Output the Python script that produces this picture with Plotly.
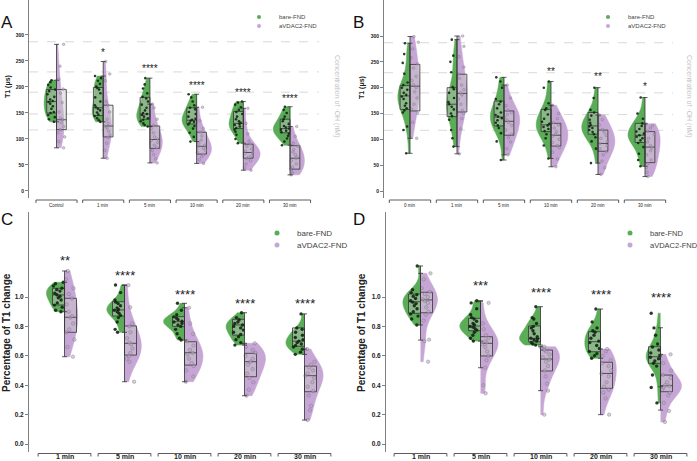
import plotly.graph_objects as go

W, H = 697, 461
FONT = "Liberation Sans, Arial, sans-serif"
GREEN = "#5aac57"
PURPLE = "#c6a6d5"
GREEN_PT = "rgba(20,36,20,0.9)"
PURPLE_PT = "rgba(185,165,195,0.55)"
PURPLE_PT_LINE = "rgba(110,100,118,0.6)"
BOX_FILL = "rgba(200,200,200,0.45)"
BOX_LINE = "#333333"

series_names = ["bare-FND", "aVDAC2-FND"]

# ---------------- Panel A : T1 (us) ----------------
a_cats = ["Control", "1 min", "5 min", "10 min", "20 min", "30 min"]
a_bare = [
    [133, 138, 142, 146, 150, 152, 158, 163, 168, 171, 173, 176, 181, 186, 192, 195, 199, 204, 209, 213],
    [133, 136, 140, 144, 147, 151, 155, 158, 161, 165, 172, 180, 188, 195, 198, 201, 206, 212, 217, 221],
    [124, 127, 130, 134, 137, 140, 143, 146, 148, 150, 155, 160, 166, 172, 178, 181, 188, 197, 205, 217],
    [95, 104, 112, 120, 125, 128, 131, 133, 135, 137, 139, 143, 148, 152, 157, 160, 165, 172, 180, 186],
    [92, 100, 108, 114, 118, 121, 124, 127, 129, 131, 134, 138, 143, 148, 152, 156, 161, 166, 170, 172],
    [88, 95, 101, 106, 110, 113, 116, 118, 120, 122, 125, 129, 134, 138, 143, 150, 156, 162],
]
a_avdac = [
    [83, 95, 104, 112, 118, 124, 131, 137, 140, 152, 170, 188, 196, 215, 240, 282],
    [63, 78, 92, 103, 108, 115, 121, 125, 130, 138, 152, 165, 172, 212, 225, 249],
    [54, 62, 70, 78, 83, 88, 93, 97, 100, 104, 112, 120, 126, 138, 160, 167],
    [53, 60, 66, 70, 74, 78, 82, 85, 88, 92, 98, 106, 113, 120, 135, 161],
    [40, 45, 52, 58, 62, 65, 68, 72, 74, 77, 81, 86, 90, 96, 110, 130, 159],
    [31, 34, 38, 42, 46, 52, 58, 62, 65, 70, 75, 80, 86, 92, 105, 124],
]
# [min, q1, median, q3, max]
a_bare_box = [[133, 150, 172, 195, 213], [133, 145, 160, 199, 221], [124, 138, 148, 180, 217],
              [95, 129, 136, 160, 186], [92, 120, 130, 153, 172], [88, 112, 120, 138, 162]]
a_avdac_box = [[83, 118, 137, 195, 282], [63, 104, 125, 165, 249], [54, 82, 99, 125, 167],
               [53, 71, 86, 113, 161], [40, 63, 74, 90, 159], [31, 42, 63, 87, 124]]
a_sig = ["", "*", "****", "****", "****", "****"]
a_sig_y = [None, 266, 235, 202, 189, 178]

# ---------------- Panel B : T1 (us) ----------------
b_cats = ["0 min", "1 min", "5 min", "10 min", "20 min", "30 min"]
b_bare = [
    [73, 118, 125, 152, 156, 160, 165, 170, 178, 183, 186, 190, 196, 200, 205, 210, 227, 248, 265, 286],
    [86, 102, 118, 138, 145, 150, 158, 163, 168, 172, 180, 190, 197, 201, 230, 250, 262, 293],
    [60, 96, 112, 122, 127, 132, 137, 141, 144, 147, 152, 160, 168, 173, 178, 200, 212, 220],
    [63, 88, 102, 110, 116, 120, 124, 127, 130, 134, 140, 148, 157, 160, 170, 200, 212],
    [54, 82, 96, 104, 110, 114, 118, 122, 125, 128, 132, 138, 146, 152, 157, 180, 200],
    [48, 60, 72, 85, 93, 98, 102, 105, 108, 111, 115, 120, 126, 131, 140, 150, 181],
]
b_avdac = [
    [102, 133, 150, 158, 168, 180, 192, 200, 206, 214, 222, 238, 246, 258, 275, 288, 299],
    [72, 120, 140, 150, 156, 168, 178, 186, 190, 196, 205, 218, 226, 240, 260, 280, 300],
    [70, 82, 95, 103, 110, 118, 127, 133, 137, 142, 148, 152, 156, 165, 180, 205],
    [47, 62, 75, 84, 88, 94, 100, 106, 110, 115, 122, 128, 132, 140, 150, 166],
    [32, 45, 58, 70, 76, 82, 88, 92, 96, 102, 108, 114, 119, 128, 138, 147],
    [28, 36, 45, 53, 60, 70, 78, 84, 88, 95, 102, 110, 116, 122, 127, 130],
]
b_bare_box = [[73, 158, 184, 204, 286], [86, 144, 168, 200, 293], [60, 126, 143, 174, 220],
              [63, 115, 128, 158, 212], [54, 110, 126, 152, 200], [48, 94, 108, 131, 181]]
b_avdac_box = [[102, 155, 203, 245, 299], [72, 153, 189, 226, 300], [70, 108, 135, 155, 205],
               [47, 87, 108, 131, 166], [32, 77, 92, 118, 147], [28, 55, 85, 115, 130]]
b_sig = ["", "", "", "**", "**", "*"]
b_sig_y = [None, None, None, 231, 221, 202]

# right-hand scale: .OH concentration (nM) marked at these T1 levels
conc_labels = ["0", "50", "100", "200", "500"]
conc_t1 = [287, 229, 190, 148, 117.5]

# ---------------- Panel C : fraction of T1 ----------------
c_cats = ["1 min", "5 min", "10 min", "20 min", "30 min"]
c_bare = [
    [0.90, 0.91, 0.93, 0.945, 0.96, 0.98, 0.995, 1.005, 1.015, 1.025, 1.04, 1.05, 1.06, 1.075, 1.09, 1.10],
    [0.76, 0.78, 0.83, 0.86, 0.875, 0.89, 0.90, 0.91, 0.915, 0.925, 0.94, 0.955, 0.965, 0.98, 1.03, 1.082],
    [0.707, 0.72, 0.75, 0.78, 0.80, 0.81, 0.82, 0.83, 0.835, 0.845, 0.855, 0.865, 0.88, 0.91, 0.957],
    [0.673, 0.69, 0.71, 0.73, 0.745, 0.76, 0.775, 0.79, 0.80, 0.81, 0.82, 0.83, 0.845, 0.86, 0.893],
    [0.61, 0.625, 0.645, 0.66, 0.67, 0.68, 0.69, 0.70, 0.71, 0.725, 0.74, 0.76, 0.78, 0.79, 0.885],
]
c_avdac = [
    [0.594, 0.66, 0.71, 0.76, 0.78, 0.82, 0.86, 0.87, 0.90, 0.95, 0.99, 1.02, 1.06, 1.12, 1.177],
    [0.424, 0.56, 0.58, 0.60, 0.62, 0.65, 0.68, 0.69, 0.72, 0.76, 0.80, 0.82, 0.93, 1.08],
    [0.424, 0.46, 0.50, 0.53, 0.55, 0.58, 0.61, 0.62, 0.64, 0.67, 0.70, 0.75, 0.82, 0.927],
    [0.329, 0.37, 0.42, 0.45, 0.48, 0.51, 0.54, 0.56, 0.58, 0.60, 0.62, 0.64, 0.66, 0.685],
    [0.163, 0.23, 0.26, 0.33, 0.36, 0.39, 0.42, 0.45, 0.465, 0.48, 0.50, 0.52, 0.54, 0.56, 0.646],
]
c_bare_box = [[0.90, 0.946, 1.014, 1.059, 1.10], [0.76, 0.871, 0.912, 0.968, 1.082],
              [0.707, 0.80, 0.832, 0.866, 0.957], [0.673, 0.741, 0.81, 0.848, 0.893],
              [0.61, 0.665, 0.70, 0.79, 0.885]]
c_avdac_box = [[0.594, 0.76, 0.862, 0.991, 1.177], [0.424, 0.605, 0.685, 0.803, 1.08],
               [0.424, 0.537, 0.621, 0.696, 0.927], [0.329, 0.458, 0.56, 0.617, 0.685],
               [0.163, 0.356, 0.465, 0.53, 0.646]]
c_sig = ["**", "****", "****", "****", "****"]
c_sig_y = [1.245, 1.143, 1.015, 0.953, 0.953]

# ---------------- Panel D : fraction of T1 ----------------
d_cats = ["1 min", "5 min", "10 min", "20 min", "30 min"]
d_bare = [
    [0.81, 0.85, 0.87, 0.885, 0.90, 0.92, 0.94, 0.955, 0.965, 0.975, 0.99, 1.005, 1.015, 1.03, 1.05, 1.211],
    [0.70, 0.72, 0.74, 0.76, 0.775, 0.785, 0.795, 0.80, 0.81, 0.82, 0.835, 0.85, 0.86, 0.88, 0.92, 0.96, 0.975],
    [0.673, 0.68, 0.69, 0.70, 0.71, 0.715, 0.72, 0.73, 0.75, 0.77, 0.79, 0.80, 0.82, 0.85, 0.86, 0.934],
    [0.583, 0.60, 0.615, 0.63, 0.65, 0.67, 0.69, 0.70, 0.72, 0.74, 0.76, 0.77, 0.79, 0.83, 0.918],
    [0.28, 0.385, 0.47, 0.53, 0.55, 0.565, 0.58, 0.59, 0.60, 0.62, 0.64, 0.66, 0.68, 0.74, 0.79, 0.89],
]
d_avdac = [
    [0.56, 0.70, 0.71, 0.84, 0.88, 0.90, 0.93, 0.96, 0.975, 0.985, 1.00, 1.02, 1.035, 1.06, 1.12, 1.161],
    [0.345, 0.40, 0.519, 0.57, 0.60, 0.63, 0.66, 0.68, 0.69, 0.70, 0.72, 0.74, 0.78, 0.82, 0.96],
    [0.20, 0.363, 0.41, 0.46, 0.50, 0.53, 0.56, 0.575, 0.59, 0.61, 0.63, 0.64, 0.655, 0.662],
    [0.20, 0.31, 0.35, 0.37, 0.39, 0.42, 0.46, 0.48, 0.50, 0.53, 0.55, 0.57, 0.60, 0.63, 0.646],
    [0.15, 0.225, 0.28, 0.33, 0.35, 0.37, 0.385, 0.395, 0.40, 0.42, 0.45, 0.47, 0.50, 0.55, 0.61],
]
d_bare_box = [[0.81, 0.889, 0.968, 1.02, 1.211], [0.70, 0.771, 0.803, 0.855, 0.975],
              [0.673, 0.696, 0.719, 0.803, 0.934], [0.583, 0.628, 0.696, 0.764, 0.918],
              [0.39, 0.549, 0.594, 0.662, 0.791]]
d_avdac_box = [[0.707, 0.893, 0.98, 1.032, 1.161], [0.519, 0.599, 0.685, 0.73, 0.968],
               [0.363, 0.497, 0.578, 0.639, 0.662], [0.20, 0.379, 0.48, 0.556, 0.646],
               [0.231, 0.356, 0.397, 0.469, 0.61]]
d_sig = ["", "***", "****", "****", "****"]
d_sig_y = [None, 1.075, 1.034, 1.014, 1.0]


def px_x(p):
    return p / W


def px_y(p):
    return 1 - p / H


fig = go.Figure()
annotations = []
shapes = []


def add_panel(xa, ya, cats, bare, avdac, bare_box, avdac_box, sig, sig_y,
              box_w, vio_w, pt, star_size, legends, leg_ms):
    n = len(cats)
    pos = list(range(n))
    for vals_list, side, col in ((bare, "negative", GREEN), (avdac, "positive", PURPLE)):
        xs = [i for i, vals in enumerate(vals_list) for _ in vals]
        ys = [v for vals in vals_list for v in vals]
        fig.add_trace(go.Violin(
            x=xs, y=ys, side=side, width=vio_w, spanmode="hard", points=False,
            scalemode="width", fillcolor=col, line=dict(color=col, width=0.5),
            box=dict(visible=False), meanline=dict(visible=False),
            xaxis=xa, yaxis=ya, showlegend=False, hoverinfo="skip"))
    for stats, sgn in ((bare_box, -1), (avdac_box, 1)):
        fig.add_trace(go.Box(
            x=[i + sgn * box_w / 2 for i in pos],
            q1=[s[1] for s in stats], median=[s[2] for s in stats], q3=[s[3] for s in stats],
            lowerfence=[s[1] for s in stats], upperfence=[s[3] for s in stats],
            width=box_w, fillcolor=BOX_FILL, line=dict(color=BOX_LINE, width=0.8),
            whiskerwidth=0, boxpoints=False, xaxis=xa, yaxis=ya,
            showlegend=False, hoverinfo="skip"))
    for stats in (bare_box, avdac_box):
        fig.add_trace(go.Scatter(
            x=pos, y=[s[2] for s in stats], mode="markers",
            marker=dict(size=1, color="rgba(0,0,0,0)"),
            error_y=dict(type="data", symmetric=False,
                         array=[s[4] - s[2] for s in stats],
                         arrayminus=[s[2] - s[0] for s in stats],
                         color=BOX_LINE, thickness=0.8, width=2.5),
            xaxis=xa, yaxis=ya, showlegend=False, hoverinfo="skip"))
    for vals_list, sgn, mk in (
            (bare, -1, dict(size=pt, color=GREEN_PT)),
            (avdac, 1, dict(size=pt, color=PURPLE_PT, line=dict(width=0.6, color=PURPLE_PT_LINE)))):
        xs = [i + sgn * box_w / 2 for i, vals in enumerate(vals_list) for _ in vals]
        ys = [v for vals in vals_list for v in vals]
        fig.add_trace(go.Box(
            x=xs, y=ys, boxpoints="all", jitter=0.9, pointpos=0, width=box_w,
            fillcolor="rgba(0,0,0,0)", line=dict(width=0, color="rgba(0,0,0,0)"),
            whiskerwidth=0, marker=mk, xaxis=xa, yaxis=ya,
            showlegend=False, hoverinfo="skip"))
    # legend entries
    for name, col, lg in zip(series_names, (GREEN, PURPLE), legends):
        fig.add_trace(go.Scatter(
            x=[None], y=[None], mode="markers", name=name,
            marker=dict(color=col, size=leg_ms), legend=lg,
            xaxis=xa, yaxis=ya, hoverinfo="skip"))
    # significance stars
    for i, (s, y) in enumerate(zip(sig, sig_y)):
        if s:
            annotations.append(dict(x=i, y=y, xref=xa, yref=ya, text=s, showarrow=False,
                                    font=dict(size=star_size, color="#222"),
                                    xanchor="center", yanchor="middle"))


def add_brackets(xa, cats, y_top_px, y_bot_px, label_px, label_font):
    for i, c in enumerate(cats):
        shapes.append(dict(
            type="path", xref=xa, yref="paper",
            path=f"M {i - 0.44} {px_y(y_bot_px)} L {i - 0.44} {px_y(y_top_px)} "
                 f"L {i + 0.44} {px_y(y_top_px)} L {i + 0.44} {px_y(y_bot_px)}",
            line=dict(color="#333", width=0.8)))
        annotations.append(dict(x=i, y=px_y(label_px), xref=xa, yref="paper", text=c,
                                showarrow=False, font=label_font,
                                xanchor="center", yanchor="middle"))


add_panel("x", "y", a_cats, a_bare, a_avdac, a_bare_box, a_avdac_box, a_sig, a_sig_y,
          0.21, 0.72, 2.6, 10, ("legend", "legend2"), 4)
add_panel("x2", "y3", b_cats, b_bare, b_avdac, b_bare_box, b_avdac_box, b_sig, b_sig_y,
          0.21, 0.72, 2.6, 10, ("legend3", "legend4"), 4)
add_panel("x3", "y5", c_cats, c_bare, c_avdac, c_bare_box, c_avdac_box, c_sig, c_sig_y,
          0.2, 0.7, 3.4, 13, ("legend5", "legend6"), 5)
add_panel("x4", "y6", d_cats, d_bare, d_avdac, d_bare_box, d_avdac_box, d_sig, d_sig_y,
          0.2, 0.7, 3.4, 13, ("legend7", "legend8"), 5)

small_lab = dict(size=4.5, color="#222")
big_lab = dict(size=7, color="#222", weight="bold")
add_brackets("x", a_cats, 200, 203, 205.5, small_lab)
add_brackets("x2", b_cats, 200, 203, 205.5, small_lab)
add_brackets("x3", c_cats, 453.5, 456.5, 456.5, big_lab)
add_brackets("x4", d_cats, 453.5, 456.5, 456.5, big_lab)

# dashed guide lines for the concentration scale
for xa, ya in (("x", "y"), ("x2", "y3")):
    for v in conc_t1:
        shapes.append(dict(type="line", xref=f"{xa} domain", yref=ya, x0=0, x1=1, y0=v, y1=v,
                           line=dict(color="#cfcfcf", width=0.8, dash="dash"), layer="below"))

# panel letters and axis titles
for txt, x, y in (("A", 7, 22), ("B", 359, 22), ("C", 7, 220), ("D", 359, 220)):
    annotations.append(dict(x=px_x(x), y=px_y(y), xref="paper", yref="paper", text=txt,
                            showarrow=False, font=dict(size=17, color="#111"),
                            xanchor="center", yanchor="middle"))
for txt, x, y, fs in (("T1 (μs)", 8, 87, 7), ("T1 (μs)", 362, 88, 7),
                      ("Percentage of T1 change", 6, 333, 10),
                      ("Percentage of T1 change", 361, 333, 10)):
    annotations.append(dict(x=px_x(x), y=px_y(y), xref="paper", yref="paper", text=txt,
                            showarrow=False, textangle=-90,
                            font=dict(size=fs, color="#222", weight="bold"),
                            xanchor="center", yanchor="middle"))
for x in (337, 689):
    annotations.append(dict(x=px_x(x), y=px_y(96), xref="paper", yref="paper",
                            text="Concentration of ·OH (nM)", showarrow=False, textangle=90,
                            font=dict(size=7, color="#c4c4c4"),
                            xanchor="center", yanchor="middle"))

left_axis = dict(showline=True, linecolor="#808080", linewidth=1, ticks="outside",
                 ticklen=3, tickwidth=1, tickcolor="#808080", showgrid=False, zeroline=False)
right_axis = dict(side="right", showline=True, linecolor="#909090", linewidth=1,
                  ticks="outside", ticklen=3, tickwidth=0.8, tickcolor="#bbbbbb",
                  tickvals=conc_t1, ticktext=conc_labels, showgrid=False, zeroline=False,
                  tickfont=dict(size=5, color="#bbbbbb"))
hidden_x = dict(visible=False, showgrid=False, zeroline=False)

t1_ticks = [0, 50, 100, 150, 200, 250, 300]
frac_ticks = [0.0, 0.2, 0.4, 0.6, 0.8, 1.0]


def leg(text_left, cy, size):
    return dict(x=px_x(text_left - 40), y=px_y(cy), xanchor="left", yanchor="middle",
                bgcolor="rgba(0,0,0,0)", borderwidth=0,
                font=dict(size=size, color="#444", family=FONT))


fig.update_layout(
    width=W, height=H, autosize=False,
    margin=dict(l=0, r=0, t=0, b=0, autoexpand=False),
    paper_bgcolor="white", plot_bgcolor="rgba(0,0,0,0)",
    font=dict(family=FONT, color="#222"),
    boxmode="overlay", violinmode="overlay",
    xaxis=dict(domain=[px_x(29), px_x(319)], range=[-0.589, 5.62], anchor="y", **hidden_x),
    yaxis=dict(domain=[px_y(198), 1], range=[-13.5, 367.3], anchor="x", tickvals=t1_ticks,
               tickfont=dict(size=5, color="#222", weight="bold"), **left_axis),
    yaxis2=dict(overlaying="y", anchor="x", range=[-13.5, 367.3], **right_axis),
    xaxis2=dict(domain=[px_x(384), px_x(673)], range=[-0.553, 5.596], anchor="y3", **hidden_x),
    yaxis3=dict(domain=[px_y(198), 1], range=[-13.5, 369.7], anchor="x2", tickvals=t1_ticks,
                tickfont=dict(size=5, color="#222", weight="bold"), **left_axis),
    yaxis4=dict(overlaying="y3", anchor="x2", range=[-13.5, 369.7], **right_axis),
    xaxis3=dict(domain=[px_x(29), px_x(345)], range=[-0.592, 4.675], anchor="y5", **hidden_x),
    yaxis5=dict(domain=[px_y(452), px_y(212)], range=[-0.054, 1.578], anchor="x3",
                tickvals=frac_ticks, tickformat=".1f",
                tickfont=dict(size=6.5, color="#222", weight="bold"), **left_axis),
    xaxis4=dict(domain=[px_x(386), 1], range=[-0.575, 4.608], anchor="y6", **hidden_x),
    yaxis6=dict(domain=[px_y(452), px_y(212)], range=[-0.054, 1.578], anchor="x4",
                tickvals=frac_ticks, tickformat=".1f",
                tickfont=dict(size=6.5, color="#222", weight="bold"), **left_axis),
    legend=leg(279, 17, 6), legend2=leg(279, 26, 6),
    legend3=leg(628, 17, 6), legend4=leg(628, 26, 6),
    legend5=leg(297, 233, 8), legend6=leg(297, 245, 8),
    legend7=leg(650, 233, 7.5), legend8=leg(650, 245, 7.5),
    annotations=annotations, shapes=shapes,
)

fig.write_html("out.html", config={"displayModeBar": False},
               post_script="document.body.style.margin='0';")
